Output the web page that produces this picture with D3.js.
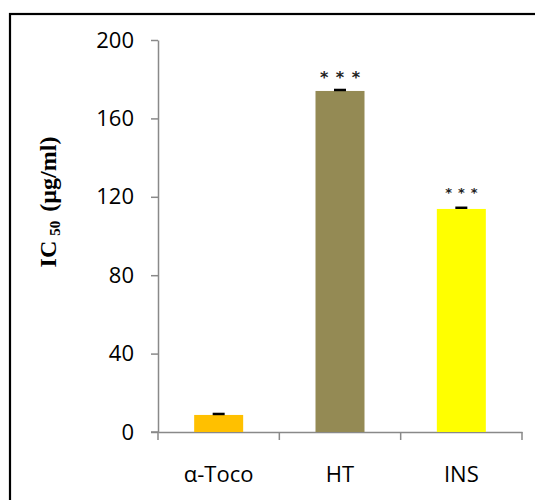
<!DOCTYPE html>
<html><head><meta charset="utf-8">
<script src="https://cdn.jsdelivr.net/npm/d3@7"></script>
<style>html,body{margin:0;background:#fff;overflow:hidden;}svg{display:block;}</style>
</head><body>
<svg id="chart" width="535" height="500"></svg>
<script>
const categories = ["α-Toco", "HT", "INS"];
const values = [8.7, 174.0, 113.8];
const errors = [0.5, 0.5, 0.6];
const colors = ["#FFC000", "#948A54", "#FFFF00"];
const sig = ["", "* * *", "* * *"];
const yTicks = [0, 40, 80, 120, 160, 200];

const svg = d3.select("#chart");
// outer frame
svg.append("rect").attr("x", 10).attr("y", 14).attr("width", 700).attr("height", 700)
  .attr("fill", "none").attr("stroke", "#000").attr("stroke-width", 2.2);

const m = {left: 158, right: 522, top: 40, bottom: 432};
const y = d3.scaleLinear().domain([0, 200]).range([m.bottom, m.top]);
const axisColor = "#898989";
const labelFont = "'Open Sans', Lato, sans-serif";

// y axis
const ya = svg.append("g").attr("transform", `translate(${m.left},0)`)
  .call(d3.axisLeft(y).tickValues(yTicks).tickSize(7).tickSizeOuter(0).tickPadding(17));
ya.selectAll("path,line").attr("stroke", axisColor).attr("stroke-width", 1.5);
ya.selectAll("text").attr("font-family", labelFont).attr("font-size", 22).attr("fill", "#000");

// x axis
const xb = d3.scaleBand().domain(categories).range([m.left, m.right]);
const xa = svg.append("g").attr("transform", `translate(0,${m.bottom})`)
  .call(d3.axisBottom(xb).tickSize(0).tickPadding(34));
xa.select("path").attr("stroke", axisColor).attr("stroke-width", 1.5);
xa.selectAll("text").attr("font-family", labelFont).attr("font-size", 22).attr("fill", "#000");
// category boundary ticks
const bounds = [m.left, ...categories.map(c => xb(c) + xb.bandwidth())];
svg.append("g").selectAll("line").data(bounds).join("line")
  .attr("x1", d => d).attr("x2", d => d).attr("y1", m.bottom).attr("y2", m.bottom + 8)
  .attr("stroke", axisColor).attr("stroke-width", 1.5);
svg.append("line").attr("x1", m.left - 7).attr("x2", m.left).attr("y1", m.bottom).attr("y2", m.bottom)
  .attr("stroke", axisColor).attr("stroke-width", 1.5);

// bars
const bw = 49;
svg.append("g").selectAll("rect").data(categories).join("rect")
  .attr("x", d => xb(d) + xb.bandwidth()/2 - bw/2)
  .attr("width", bw)
  .attr("y", (d,i) => y(values[i]))
  .attr("height", (d,i) => m.bottom - y(values[i]))
  .attr("fill", (d,i) => colors[i]);

// error bars
const eg = svg.append("g");
categories.forEach((c,i) => {
  const cx = xb(c) + xb.bandwidth()/2;
  eg.append("line").attr("x1", cx).attr("x2", cx).attr("y1", y(values[i])).attr("y2", y(values[i] + errors[i]))
    .attr("stroke", "#000").attr("stroke-width", 1.5);
  eg.append("line").attr("x1", cx - 6).attr("x2", cx + 6).attr("y1", y(values[i] + errors[i])).attr("y2", y(values[i] + errors[i]))
    .attr("stroke", "#000").attr("stroke-width", 2.5);
});

// significance stars
svg.append("g").selectAll("text").data(categories).join("text")
  .attr("x", (d,i) => xb(d) + xb.bandwidth()/2 + 0.5)
  .attr("y", (d,i) => y(values[i] + errors[i]) - (i === 1 ? 6.5 : 10.5))
  .attr("text-anchor", "middle")
  .attr("font-family", "'DejaVu Sans', sans-serif")
  .attr("font-weight", "bold")
  .attr("font-size", (d,i) => i === 1 ? 16 : 13)
  .attr("letter-spacing", (d,i) => i === 1 ? 1 : 0.7)
  .attr("fill", "#222")
  .text((d,i) => sig[i]);

// y label
const yl = svg.append("text").attr("transform", "translate(56,202) rotate(-90)")
  .attr("text-anchor", "middle").attr("font-family", "'Liberation Serif', 'Times New Roman', serif")
  .attr("font-weight", "bold").attr("font-size", 24).attr("fill", "#000");
yl.append("tspan").text("IC");
yl.append("tspan").attr("font-size", 15).attr("dy", 4).attr("dx", 5).text("50");
yl.append("tspan").attr("dy", -4).attr("dx", 9).text("(µg/ml)");
</script>
</body></html>
